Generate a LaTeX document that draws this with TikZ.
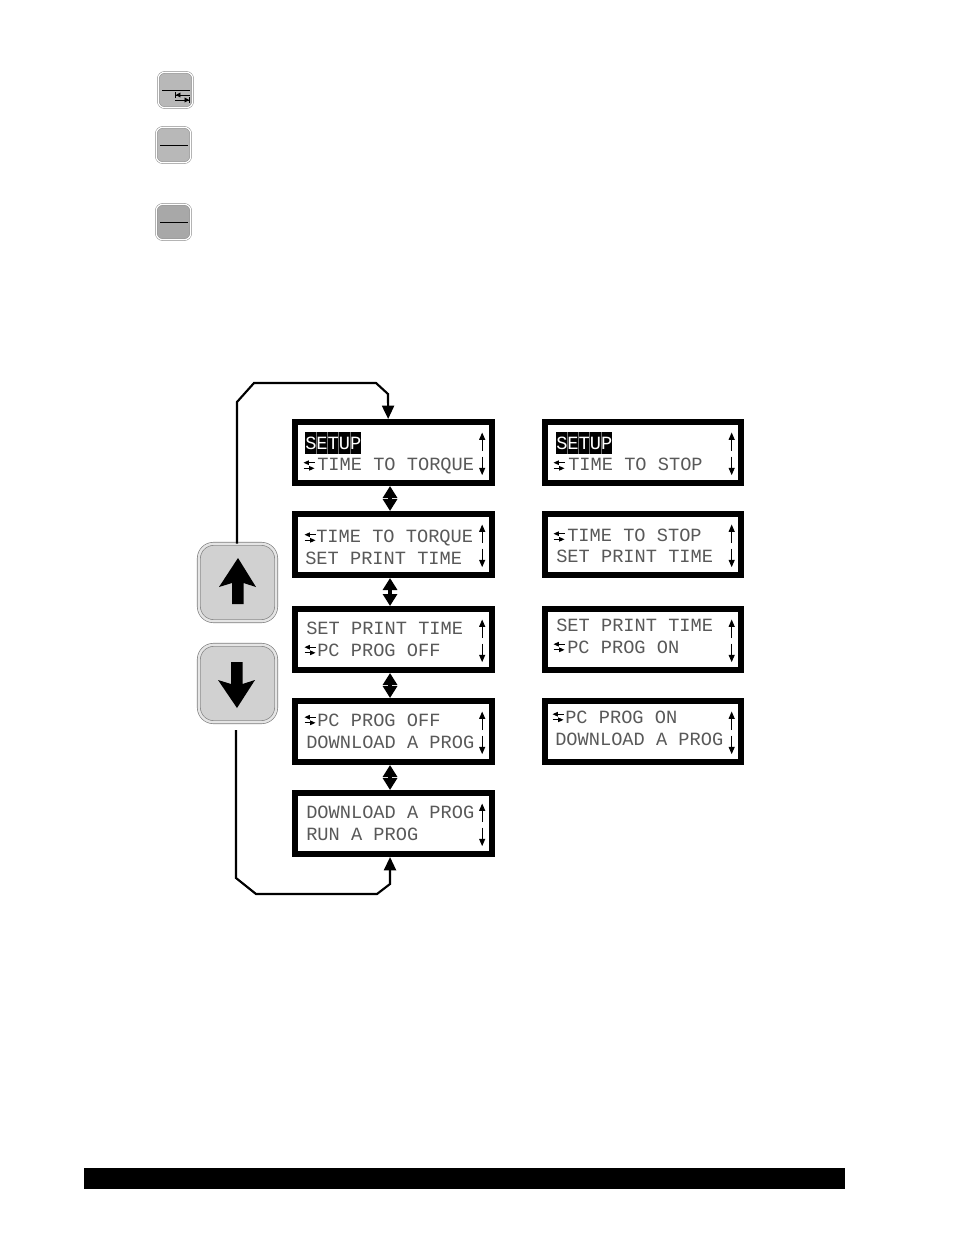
\documentclass[tikz,border=0pt]{standalone}
\usepackage{fontspec}
\setmonofont{Liberation Mono}
\usetikzlibrary{arrows.meta}
\definecolor{keygray}{gray}{0.72}
\definecolor{keydark}{gray}{0.66}
\definecolor{padgray}{gray}{0.82}
\definecolor{lcdink}{gray}{0.35}
\tikzset{
  lcdbox/.style={draw=black,line width=4.5pt,fill=white,minimum width=147.75pt,minimum height=45.75pt,inner sep=0pt},
  lcdboxb/.style={lcdbox,minimum width=147pt},
  lcdtext/.style={anchor=base west,inner sep=0pt,font=\ttfamily\fontsize{14}{14}\selectfont,text=lcdink},
  smallkey/.style={draw=black!45,double=white,double distance=0.9pt,line width=0.4pt,rounded corners=5pt,minimum width=26pt,minimum height=26.5pt,inner sep=0pt},
  bigkey/.style={draw=black!50,double=black!10,double distance=1.8pt,line width=0.5pt,fill=padgray,rounded corners=11pt,minimum width=58pt,minimum height=58pt,inner sep=0pt},
  keyline/.style={line width=0.7pt},
  tinyarrow/.style={line width=0.8pt,-{Triangle[length=5.5pt,width=4.5pt]}},
  loopline/.style={line width=1.6pt,-{Triangle[length=10pt,width=9pt]}},
  stepline/.style={line width=2.4pt,{Triangle[length=9pt,width=10.5pt]}-{Triangle[length=9pt,width=10.5pt]}},
  swapicon/.pic={
    \draw[line width=0.7pt,-{Triangle[length=4pt,width=3.4pt]}] (5.5,-2.8) -- (-5.5,-2.8);
    \draw[line width=0.7pt,-{Triangle[length=4pt,width=3.4pt]}] (-5.5,2.8) -- (5.5,2.8);
  }
}
\newcommand{\lcdscreen}[4][lcdbox]{%
  \node[#1] (#2) at (#3,#4) {};
  \draw[tinyarrow] ([xshift=66.5pt,yshift=1pt]#2.center) -- ([xshift=66.5pt,yshift=15pt]#2.center);
  \draw[tinyarrow] ([xshift=66.5pt,yshift=-3pt]#2.center) -- ([xshift=66.5pt,yshift=-17pt]#2.center);
}
\begin{document}
\begin{tikzpicture}[x=0.75pt,y=-0.75pt]
    \useasboundingbox (0,0) rectangle (954,1235);
    % function keys
    \node[smallkey,fill=keygray] (keyshift) at (175.5,90) {};
    \node[smallkey,fill=keygray] (keyone) at (173.5,145) {};
    \node[smallkey,fill=keydark] (keytwo) at (173.5,222) {};
    \draw[keyline] ([xshift=-10pt,yshift=-0.7pt]keyshift.center) -- ([xshift=11pt,yshift=-0.7pt]keyshift.center);
    \draw[keyline] ([xshift=-10pt,yshift=-0.7pt]keyone.center) -- ([xshift=11pt,yshift=-0.7pt]keyone.center);
    \draw[keyline] ([xshift=-10pt,yshift=-0.7pt]keytwo.center) -- ([xshift=11pt,yshift=-0.7pt]keytwo.center);
    \draw[line width=0.6pt,{Bar[width=4pt]Triangle[length=3.5pt,width=3.6pt]}-] (175,95) -- (190,95);
    \draw[line width=0.6pt,-{Triangle[length=3.5pt,width=3.6pt]Bar[width=4pt]}] (175,100) -- (190,100);
    % up and down keys
    \node[bigkey] (keyup) at (237.5,582.5) {};
    \node[bigkey] (keydown) at (237.5,683.5) {};
    \fill (238,558) -- (256,587) -- (243.5,583) -- (243.5,604) -- (232,604) -- (232,583) -- (219,587) -- cycle;
    \fill (237,708) -- (255,680) -- (242.5,684) -- (242.5,662) -- (231,662) -- (231,684) -- (218,680) -- cycle;
    % screens, first column
    \lcdscreen{setupa}{393.5}{452.5}
    \lcdscreen{timea}{393.5}{544.5}
    \lcdscreen{printa}{393.5}{639.5}
    \lcdscreen{proga}{393.5}{731.5}
    \lcdscreen{runa}{393.5}{823.5}
    % screens, second column
    \lcdscreen[lcdboxb]{setupb}{643}{452.5}
    \lcdscreen[lcdboxb]{timeb}{643}{544.5}
    \lcdscreen[lcdboxb]{printb}{643}{639.5}
    \lcdscreen[lcdboxb]{progb}{643}{731.5}
    % screen texts
    \fill[black] (305,432) rectangle (361,454);
    \foreach \i in {1,2,3,4} {
        \draw[black!55,line width=0.3pt] (305+\i*11.2,432) -- (305+\i*11.2,454);
    }
    \node[lcdtext,text=white] (setuptxta) at (305,449) {SETUP};
    \pic at (309,465.5) {swapicon};
    \node[lcdtext] (timetxta) at (317,470) {TIME TO TORQUE};
    \pic at (310,537.5) {swapicon};
    \node[lcdtext] (timetxtb) at (316,542) {TIME TO TORQUE};
    \node[lcdtext] (printtxta) at (305,564) {SET PRINT TIME};
    \node[lcdtext] (printtxtb) at (306,634) {SET PRINT TIME};
    \pic at (310,650) {swapicon};
    \node[lcdtext] (offtxta) at (317,656) {PC PROG OFF};
    \pic at (310,720) {swapicon};
    \node[lcdtext] (offtxtb) at (317,726) {PC PROG OFF};
    \node[lcdtext] (dltxta) at (306,748) {DOWNLOAD A PROG};
    \node[lcdtext] (dltxtb) at (306,818) {DOWNLOAD A PROG};
    \node[lcdtext] (runtxt) at (306,840) {RUN A PROG};
    \fill[black] (556,432) rectangle (612,454);
    \foreach \i in {1,2,3,4} {
        \draw[black!55,line width=0.3pt] (556+\i*11.2,432) -- (556+\i*11.2,454);
    }
    \node[lcdtext,text=white] (setuptxtb) at (556,449) {SETUP};
    \pic at (559,465.5) {swapicon};
    \node[lcdtext] (stoptxta) at (568,470) {TIME TO STOP};
    \pic at (559,536.5) {swapicon};
    \node[lcdtext] (stoptxtb) at (567,541) {TIME TO STOP};
    \node[lcdtext] (printtxtc) at (556,562) {SET PRINT TIME};
    \node[lcdtext] (printtxtd) at (556,631) {SET PRINT TIME};
    \pic at (559,647) {swapicon};
    \node[lcdtext] (ontxta) at (567,653) {PC PROG ON};
    \pic at (558,717) {swapicon};
    \node[lcdtext] (ontxtb) at (565,723) {PC PROG ON};
    \node[lcdtext] (dltxtc) at (555,745) {DOWNLOAD A PROG};
    % connectors
    \draw[stepline] ([xshift=-2.6pt]setupa.south) -- ([xshift=-2.6pt]timea.north);
    \draw[stepline] ([xshift=-2.6pt]timea.south) -- ([xshift=-2.6pt]printa.north);
    \draw[stepline] ([xshift=-2.6pt]printa.south) -- ([xshift=-2.6pt]proga.north);
    \draw[stepline] ([xshift=-2.6pt]proga.south) -- ([xshift=-2.6pt]runa.north);
    \draw[loopline] (keyup.north) ++(-0.4pt,0) -- (237,402) -- (254,383) -- (376,383) -- (388,394) -- ([xshift=-4pt]setupa.north);
    \coordinate (loopstart) at (236,730);
    \draw[loopline] (loopstart) -- (236,878) -- (256,894) -- (377,894) -- (390,884) -- ([xshift=-2.6pt]runa.south);
    % footer bar
    \node[fill=black,minimum width=570.75pt,minimum height=15.75pt,inner sep=0pt] (footer) at (464.5,1178.5) {};
\end{tikzpicture}
\end{document}
